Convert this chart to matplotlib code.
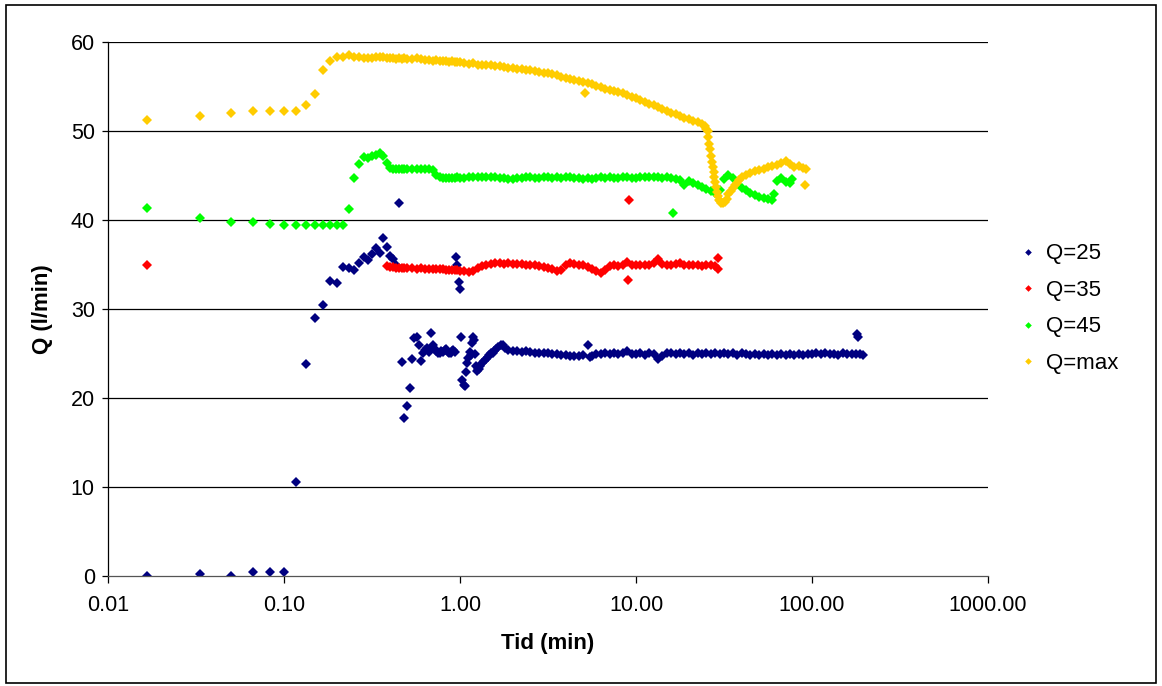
import numpy as np
import matplotlib
matplotlib.use("Agg")
import matplotlib.pyplot as plt
from matplotlib.patches import Rectangle

plt.rcParams['font.family'] = ['Liberation Sans', 'DejaVu Sans']

# Q=25 (time in minutes, flow in l/min)
t_25 = [0.0167, 0.0333, 0.05, 0.0667, 0.0833, 0.1, 0.1167, 0.1333, 0.15, 0.1667,
        0.1833, 0.2, 0.2167, 0.2333, 0.25, 0.2667, 0.2833, 0.3, 0.3167, 0.3333,
        0.35, 0.3667, 0.3833, 0.4, 0.4167, 0.4333, 0.45, 0.4667, 0.4833, 0.5,
        0.5167, 0.5333, 0.55, 0.5667, 0.5833, 0.6, 0.6167, 0.6333, 0.65, 0.6667,
        0.6833, 0.7, 0.7167, 0.7333, 0.75, 0.7667, 0.7833, 0.8, 0.8167, 0.8333,
        0.85, 0.8667, 0.8833, 0.9, 0.9167, 0.9333, 0.95, 0.9667, 0.9833, 1.0,
        1.0167, 1.0333, 1.05, 1.0667, 1.0833, 1.1, 1.1167, 1.1333, 1.15, 1.1667,
        1.1833, 1.2, 1.2167, 1.2333, 1.25, 1.2667, 1.2833, 1.3, 1.3333, 1.3667,
        1.4, 1.4333, 1.4667, 1.5, 1.5333, 1.5667, 1.6, 1.65, 1.7, 1.75,
        1.8, 1.88, 2.0, 2.11, 2.24, 2.37, 2.51, 2.66, 2.82, 2.99,
        3.16, 3.35, 3.55, 3.76, 3.98, 4.22, 4.47, 4.73, 5.01, 5.31,
        5.45, 5.62, 5.96, 6.31, 6.68, 7.08, 7.5, 7.94, 8.41, 8.91,
        9.44, 10.0, 10.6, 11.2, 11.9, 12.6, 13.3, 14.1, 15.0, 15.8,
        16.8, 17.8, 18.8, 20.0, 21.1, 22.4, 23.7, 25.1, 26.6, 28.2,
        29.9, 31.6, 33.5, 35.5, 37.6, 39.8, 42.2, 44.7, 47.3, 50.1,
        53.1, 56.2, 59.6, 63.1, 66.8, 70.8, 75.0, 79.4, 84.1, 89.1,
        94.4, 100, 106, 112, 119, 126, 133, 141, 150, 158,
        168, 178, 180, 183, 188, 195]
q_25 = [0.0, 0.2, 0.0, 0.4, 0.4, 0.4, 10.5, 23.8, 29.0, 30.4,
        33.1, 32.9, 34.7, 34.6, 34.4, 35.2, 35.8, 35.5, 36.2, 36.9,
        36.3, 38.0, 37.0, 36.0, 35.6, 35.0, 41.9, 24.0, 17.7, 19.1,
        21.1, 24.4, 26.7, 26.8, 26.0, 24.1, 25.0, 25.4, 25.6, 25.2,
        27.3, 26.0, 25.5, 25.3, 25.0, 25.1, 25.3, 25.2, 25.4, 25.5,
        25.2, 25.0, 25.1, 25.3, 25.4, 25.2, 35.9, 35.0, 33.0, 32.2,
        26.8, 22.0, 21.5, 21.3, 22.9, 23.9, 24.5, 25.2, 24.8, 26.2,
        26.9, 26.5, 24.9, 23.6, 23.0, 23.3, 23.2, 23.6, 23.9, 24.2,
        24.4, 24.6, 24.8, 25.0, 25.1, 25.3, 25.5, 25.7, 25.9, 26.0,
        25.6, 25.4, 25.3, 25.3, 25.2, 25.3, 25.2, 25.1, 25.1, 25.0,
        25.0, 24.9, 24.9, 24.8, 24.8, 24.7, 24.7, 24.7, 24.8, 25.9,
        24.6, 24.7, 24.9, 24.9, 25.0, 24.9, 25.0, 24.9, 25.0, 25.3,
        24.9, 24.9, 25.0, 24.8, 25.0, 24.9, 24.4, 24.7, 25.1, 25.0,
        24.9, 25.0, 24.9, 25.0, 24.8, 25.0, 24.9, 25.0, 24.9, 25.0,
        24.9, 25.0, 24.9, 25.0, 24.8, 25.0, 24.9, 24.8, 24.9, 24.8,
        24.9, 24.8, 24.9, 24.8, 24.9, 24.8, 24.9, 24.8, 24.9, 24.8,
        24.9, 24.9, 25.0, 24.9, 25.0, 24.9, 24.9, 24.8, 25.0, 24.9,
        24.9, 24.9, 27.2, 26.8, 24.9, 24.8]

# Q=35
t_35 = [0.0167, 0.3833, 0.4, 0.4167, 0.4333, 0.45, 0.4667, 0.4833, 0.5, 0.5333,
        0.5667, 0.6, 0.6333, 0.6667, 0.7, 0.7333, 0.7667, 0.8, 0.8333, 0.8667,
        0.9, 0.9333, 0.9667, 1.0, 1.06, 1.12, 1.19, 1.26, 1.33, 1.41,
        1.5, 1.58, 1.68, 1.78, 1.88, 2.0, 2.11, 2.24, 2.37, 2.51,
        2.66, 2.82, 2.99, 3.16, 3.35, 3.55, 3.76, 3.98, 4.22, 4.47,
        4.73, 5.01, 5.31, 5.62, 5.96, 6.31, 6.68, 7.08, 7.5, 7.94,
        8.41, 8.91, 9.0, 9.1, 9.44, 10.0, 10.6, 11.2, 11.9, 12.6,
        13.3, 14.1, 15.0, 15.8, 16.8, 17.8, 18.8, 20.0, 21.1, 22.4,
        23.7, 25.1, 26.6, 28.2, 29.2, 29.4]
q_35 = [34.9, 34.8, 34.7, 34.7, 34.6, 34.6, 34.6, 34.6, 34.6, 34.6,
        34.5, 34.6, 34.5, 34.5, 34.5, 34.5, 34.5, 34.5, 34.4, 34.4,
        34.4, 34.4, 34.4, 34.3, 34.3, 34.2, 34.3, 34.6, 34.8, 35.0,
        35.1, 35.2, 35.2, 35.1, 35.2, 35.1, 35.1, 35.1, 35.0, 35.0,
        34.9, 34.8, 34.7, 34.6, 34.5, 34.3, 34.4, 35.0, 35.2, 35.1,
        35.0, 34.9, 34.7, 34.5, 34.3, 34.1, 34.4, 34.8, 34.9, 34.8,
        35.0, 35.3, 33.3, 42.3, 34.9, 35.0, 34.9, 35.0, 34.9, 35.2,
        35.6, 35.1, 34.9, 35.0, 35.1, 35.2, 34.9, 35.0, 34.9, 35.0,
        34.8, 35.0, 34.9, 34.8, 34.5, 35.7]

# Q=45
t_45 = [0.0167, 0.0333, 0.05, 0.0667, 0.0833, 0.1, 0.1167, 0.1333, 0.15, 0.1667,
        0.1833, 0.2, 0.2167, 0.2333, 0.25, 0.2667, 0.2833, 0.3, 0.3167, 0.3333,
        0.35, 0.3667, 0.3833, 0.4, 0.4167, 0.4333, 0.45, 0.4667, 0.4833, 0.5,
        0.5333, 0.5667, 0.6, 0.6333, 0.6667, 0.7, 0.7333, 0.7667, 0.8, 0.8333,
        0.8667, 0.9, 0.9333, 0.9667, 1.0, 1.06, 1.12, 1.19, 1.26, 1.33,
        1.41, 1.5, 1.58, 1.68, 1.78, 1.88, 2.0, 2.11, 2.24, 2.37,
        2.51, 2.66, 2.82, 2.99, 3.16, 3.35, 3.55, 3.76, 3.98, 4.22,
        4.47, 4.73, 5.01, 5.31, 5.62, 5.96, 6.31, 6.68, 7.08, 7.5,
        7.94, 8.41, 8.91, 9.44, 10.0, 10.6, 11.2, 11.9, 12.6, 13.3,
        14.1, 15.0, 15.8, 16.3, 16.8, 17.8, 18.8, 20.0, 21.1, 22.4,
        23.7, 25.1, 26.6, 28.2, 29.9, 31.6, 33.5, 35.5, 37.6, 39.8,
        42.2, 44.7, 47.3, 50.1, 53.1, 56.2, 59.6, 60.5, 63.1, 66.8,
        70.8, 75.0, 77.0]
q_45 = [41.4, 40.2, 39.8, 39.8, 39.6, 39.4, 39.4, 39.4, 39.4, 39.4,
        39.4, 39.4, 39.4, 41.2, 44.7, 46.3, 47.1, 47.0, 47.2, 47.3,
        47.5, 47.2, 46.4, 45.9, 45.8, 45.8, 45.8, 45.8, 45.8, 45.8,
        45.8, 45.8, 45.7, 45.8, 45.7, 45.6, 45.1, 44.8, 44.7, 44.7,
        44.7, 44.7, 44.7, 44.8, 44.7, 44.7, 44.8, 44.8, 44.9, 44.8,
        44.8, 44.9, 44.8, 44.7, 44.7, 44.6, 44.6, 44.7, 44.7, 44.8,
        44.8, 44.7, 44.7, 44.8, 44.8, 44.7, 44.8, 44.7, 44.8, 44.8,
        44.7, 44.7, 44.6, 44.7, 44.6, 44.7, 44.8, 44.7, 44.8, 44.7,
        44.7, 44.8, 44.8, 44.7, 44.7, 44.8, 44.9, 44.8, 44.9, 44.8,
        44.7, 44.8, 44.7, 40.8, 44.6, 44.5, 43.9, 44.4, 44.2, 43.9,
        43.7, 43.5, 43.3, 43.1, 43.4, 44.6, 45.1, 44.7, 44.1, 43.6,
        43.4, 43.1, 42.8, 42.6, 42.5, 42.4, 42.3, 42.9, 44.4, 44.7,
        44.3, 44.2, 44.6]

# Q=max
t_max = [0.0167, 0.0333, 0.05, 0.0667, 0.0833, 0.1, 0.1167, 0.1333, 0.15, 0.1667,
         0.1833, 0.2, 0.2167, 0.2333, 0.25, 0.2667, 0.2833, 0.3, 0.3167, 0.3333,
         0.35, 0.3667, 0.3833, 0.4, 0.4167, 0.4333, 0.45, 0.4667, 0.4833, 0.5,
         0.5333, 0.5667, 0.6, 0.6333, 0.6667, 0.7, 0.7333, 0.7667, 0.8, 0.8333,
         0.8667, 0.9, 0.9333, 0.9667, 1.0, 1.06, 1.12, 1.19, 1.26, 1.33,
         1.41, 1.5, 1.58, 1.68, 1.78, 1.88, 2.0, 2.11, 2.24, 2.37,
         2.51, 2.66, 2.82, 2.99, 3.16, 3.35, 3.55, 3.76, 3.98, 4.22,
         4.47, 4.73, 5.01, 5.1, 5.31, 5.62, 5.96, 6.31, 6.68, 7.08,
         7.5, 7.94, 8.41, 8.91, 9.44, 10.0, 10.6, 11.2, 11.9, 12.6,
         13.3, 14.1, 15.0, 15.8, 16.8, 17.8, 18.8, 20.0, 21.1, 22.4,
         23.7, 24.6, 25.1, 25.5, 25.8, 26.1, 26.4, 26.7, 27.0, 27.3,
         27.6, 27.9, 28.2, 28.5, 28.8, 29.1, 29.5, 29.9, 30.5, 31.2,
         31.9, 32.7, 33.5, 34.5, 35.5, 36.5, 37.6, 38.7, 39.8, 42.2,
         44.7, 47.3, 50.1, 53.1, 56.2, 59.6, 63.1, 66.8, 70.8, 75.0,
         79.4, 84.1, 89.1, 91.0, 92.0]
q_max = [51.3, 51.7, 52.1, 52.3, 52.3, 52.3, 52.3, 52.9, 54.2, 56.9,
         57.9, 58.4, 58.4, 58.6, 58.4, 58.3, 58.2, 58.2, 58.2, 58.3,
         58.4, 58.3, 58.2, 58.2, 58.2, 58.1, 58.2, 58.1, 58.2, 58.1,
         58.1, 58.2, 58.1, 58.0, 58.0, 57.9, 58.0, 57.9, 57.9, 57.9,
         57.8, 57.9, 57.8, 57.8, 57.8, 57.7, 57.6, 57.7, 57.5, 57.5,
         57.4, 57.4, 57.3, 57.3, 57.2, 57.1, 57.1, 57.0, 57.0, 56.9,
         56.9, 56.8, 56.7, 56.6, 56.5, 56.4, 56.3, 56.1, 56.0, 55.9,
         55.8, 55.6, 55.5, 54.3, 55.4, 55.3, 55.1, 55.0, 54.8, 54.6,
         54.5, 54.4, 54.3, 54.1, 53.9, 53.7, 53.5, 53.3, 53.1, 52.9,
         52.7, 52.5, 52.3, 52.1, 51.9, 51.7, 51.5, 51.4, 51.2, 51.0,
         50.8, 50.6, 50.3, 50.0, 49.3, 48.6, 48.0, 47.2, 46.5, 46.0,
         45.4, 44.9, 44.3, 43.7, 43.2, 42.7, 42.3, 42.1, 41.9, 41.9,
         42.0, 42.4, 42.9, 43.3, 43.6, 43.9, 44.2, 44.5, 44.8, 45.1,
         45.3, 45.5, 45.6, 45.8, 46.0, 46.1, 46.2, 46.4, 46.6, 46.3,
         46.0, 46.1, 45.9, 43.9, 45.8]

series_labels = ['Q=25', 'Q=35', 'Q=45', 'Q=max']
series_colors = ['#000080', '#FF0000', '#00FF00', '#FFCC00']

x_ticks = [0.01, 0.1, 1, 10, 100, 1000]
x_ticklabels = ['0.01', '0.10', '1.00', '10.00', '100.00', '1000.00']
y_ticks = [0, 10, 20, 30, 40, 50, 60]

fig = plt.figure(figsize=(11.62, 6.86), dpi=100)
ax = fig.add_axes([0.0929, 0.1608, 0.7574, 0.7775])

all_t = [t_25, t_35, t_45, t_max]
all_q = [q_25, q_35, q_45, q_max]
for t, q, lab, col in zip(all_t, all_q, series_labels, series_colors):
    ax.plot(t, q, linestyle='none', marker='D', markersize=5.6,
            color=col, markeredgewidth=0, label=lab)

ax.set_xscale('log')
ax.set_xlim(0.01, 1000)
ax.set_ylim(0, 60)
ax.set_xticks(x_ticks)
ax.set_xticklabels(x_ticklabels)
ax.minorticks_off()
ax.set_yticks(y_ticks)

for y in y_ticks[1:]:
    ax.axhline(y, color='black', linewidth=0.9, zorder=0)

for side in ['top', 'right']:
    ax.spines[side].set_visible(False)
ax.spines['left'].set_linewidth(0.9)
ax.spines['bottom'].set_linewidth(0.9)
ax.spines['bottom'].set_color('#555555')

ax.tick_params(axis='both', direction='out', labelsize=15.5, width=0.9)
ax.tick_params(axis='x', length=5, pad=9)
ax.tick_params(axis='y', length=4.5, pad=5)

ax.set_xlabel('Tid (min)', fontsize=16, fontweight='bold', labelpad=12)
ax.set_ylabel('Q (l/min)', fontsize=16, fontweight='bold', labelpad=13)

leg = ax.legend(loc='center left', bbox_to_anchor=(0.862, 0.55),
                bbox_transform=fig.transFigure, frameon=False, fontsize=16,
                markerscale=0.6, handlelength=0.6, handletextpad=0.5,
                labelspacing=0.7)

# outer frame round the whole chart
fig.patches.append(Rectangle((0.005, 0.005), 0.99, 0.988, transform=fig.transFigure,
                             fill=False, edgecolor='black', linewidth=1.2))

fig.savefig('out.png', dpi=100)
